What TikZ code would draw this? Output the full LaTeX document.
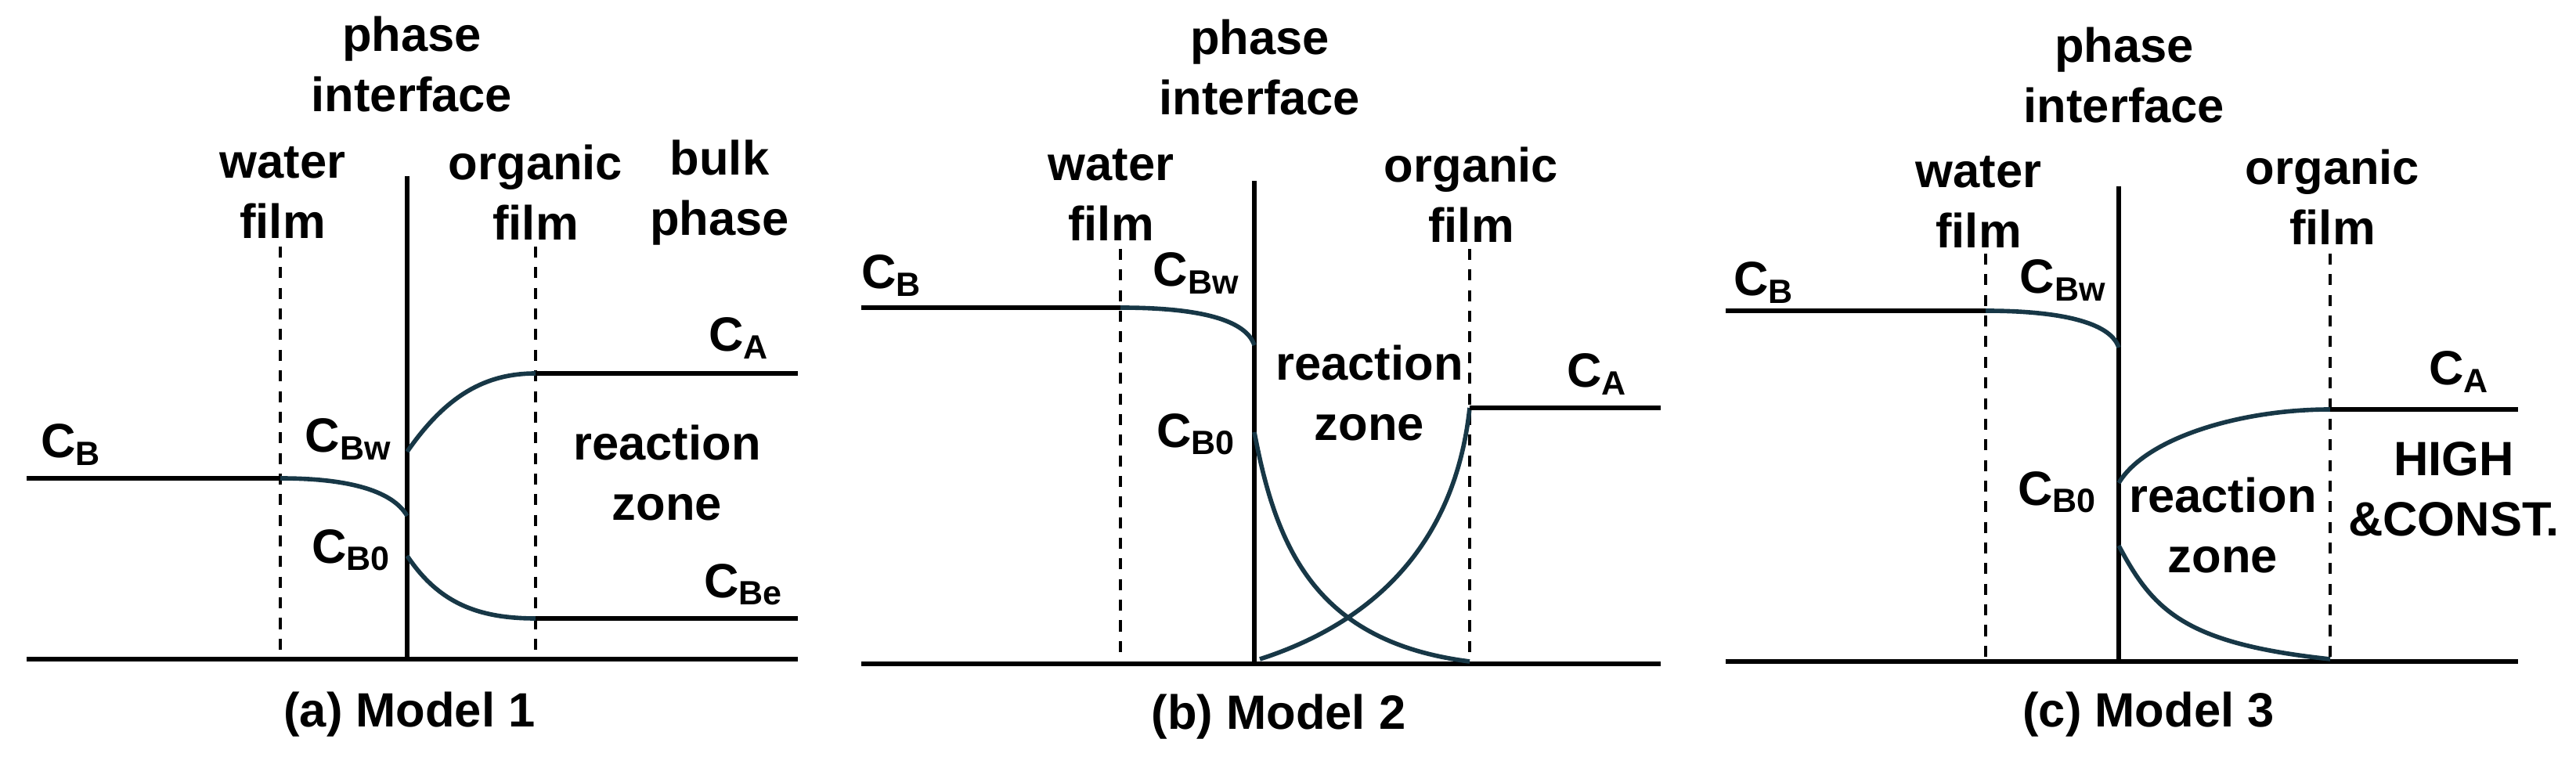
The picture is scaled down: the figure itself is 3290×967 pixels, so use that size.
\documentclass[tikz,border=0pt]{standalone}
\usepackage{fontspec}
\setmainfont{Liberation Sans}
\newcommand{\Cs}[1]{C\textsubscript{#1}}
\definecolor{curvecol}{HTML}{173746}

\begin{document}
\begin{tikzpicture}
    [
        x=0.1mm, y=-0.1mm,
        label/.style = {font=\fontsize{17.5}{22}\selectfont\bfseries, align=center, inner sep=0pt},
        axis/.style = {line width=1.5pt, black},
        film/.style = {line width=1pt, dash pattern=on 4pt off 3.5pt},
        profile/.style = {line width=1.6pt, curvecol},
    ]
    \useasboundingbox (0,0) rectangle (3290,967);

    % (a) Model 1
    \coordinate (aL) at (34,842);   \coordinate (aR) at (1019,842);
    \coordinate (aIt) at (520,225); \coordinate (aIb) at (520,842);
    \coordinate (aWt) at (358,315); \coordinate (aWb) at (358,842);
    \coordinate (aOt) at (684,315); \coordinate (aOb) at (684,842);
    \coordinate (aB0) at (34,611);  \coordinate (aB1) at (358,611); \coordinate (aB2) at (520,659);
    \coordinate (aA0) at (520,577); \coordinate (aA1) at (684,477); \coordinate (aA2) at (1019,477);
    \coordinate (aE0) at (520,710); \coordinate (aE1) at (684,790); \coordinate (aE2) at (1019,790);

    \draw[axis] (aL) -- (aR);
    \draw[axis] (aIt) -- (aIb);
    \draw[film] (aWt) -- (aWb);
    \draw[film] (aOt) -- (aOb);
    \draw[axis] (aB0) -- (aB1);
    \draw[profile] (aB1) .. controls (440,611) and (500,625) .. (aB2);
    \draw[profile] (aA0) .. controls (570,505) and (620,477) .. (aA1);
    \draw[axis] (aA1) -- (aA2);
    \draw[profile] (aE0) .. controls (560,770) and (610,790) .. (aE1);
    \draw[axis] (aE1) -- (aE2);

    \node[label] (aphase) at (526,82) {phase\\interface};
    \node[label] (awater) at (361,246) {water\\film};
    \node[label] (aorg) at (684,246) {organic\\film};
    \node[label] (abulk) at (919,246) {bulk\\phase};
    \node[label] (aCB) at (91,568) {\Cs{B}};
    \node[label] (aCBw) at (445,561) {\Cs{Bw}};
    \node[label] (aCB0) at (449,703) {\Cs{B0}};
    \node[label] (aCA) at (944,432) {\Cs{A}};
    \node[label] (azone) at (852,604) {reaction\\zone};
    \node[label] (aCBe) at (950,747) {\Cs{Be}};
    \node[label] (acap) at (523,913) {(a) Model 1};

    % (b) Model 2
    \coordinate (bL) at (1100,848);  \coordinate (bR) at (2121,848);
    \coordinate (bIt) at (1602,231); \coordinate (bIb) at (1602,848);
    \coordinate (bWt) at (1431,318); \coordinate (bWb) at (1431,848);
    \coordinate (bOt) at (1877,318); \coordinate (bOb) at (1877,848);
    \coordinate (bB0) at (1100,393); \coordinate (bB1) at (1431,393); \coordinate (bB2) at (1602,441);
    \coordinate (bZ0) at (1602,552); \coordinate (bZ1) at (1877,845);
    \coordinate (bA0) at (1609,842); \coordinate (bA1) at (1877,521); \coordinate (bA2) at (2121,521);

    \draw[axis] (bL) -- (bR);
    \draw[axis] (bIt) -- (bIb);
    \draw[film] (bWt) -- (bWb);
    \draw[film] (bOt) -- (bOb);
    \draw[axis] (bB0) -- (bB1);
    \draw[profile] (bB1) .. controls (1520,393) and (1590,405) .. (bB2);
    \draw[profile] (bZ0) .. controls (1630,700) and (1680,820) .. (bZ1);
    \draw[profile] (bA0) .. controls (1770,790) and (1860,680) .. (bA1);
    \draw[axis] (bA1) -- (bA2);

    \node[label] (bphase) at (1609,86) {phase\\interface};
    \node[label] (bwater) at (1419,249) {water\\film};
    \node[label] (borg) at (1879,249) {organic\\film};
    \node[label] (bCB) at (1139,352) {\Cs{B}};
    \node[label] (bCBw) at (1528,349) {\Cs{Bw}};
    \node[label] (bCB0) at (1528,555) {\Cs{B0}};
    \node[label] (bzone) at (1749,502) {reaction\\zone};
    \node[label] (bCA) at (2040,478) {\Cs{A}};
    \node[label] (bcap) at (1633,916) {(b) Model 2};

    % (c) Model 3
    \coordinate (cL) at (2204,845);  \coordinate (cR) at (3216,845);
    \coordinate (cIt) at (2706,238); \coordinate (cIb) at (2706,845);
    \coordinate (cWt) at (2536,324); \coordinate (cWb) at (2536,845);
    \coordinate (cOt) at (2976,324); \coordinate (cOb) at (2976,845);
    \coordinate (cB0) at (2204,397); \coordinate (cB1) at (2536,397); \coordinate (cB2) at (2706,444);
    \coordinate (cA0) at (2706,617); \coordinate (cA1) at (2976,523); \coordinate (cA2) at (3216,523);
    \coordinate (cZ0) at (2706,697); \coordinate (cZ1) at (2976,842);

    \draw[axis] (cL) -- (cR);
    \draw[axis] (cIt) -- (cIb);
    \draw[film] (cWt) -- (cWb);
    \draw[film] (cOt) -- (cOb);
    \draw[axis] (cB0) -- (cB1);
    \draw[profile] (cB1) .. controls (2625,397) and (2695,410) .. (cB2);
    \draw[profile] (cA0) .. controls (2740,560) and (2860,523) .. (cA1);
    \draw[axis] (cA1) -- (cA2);
    \draw[profile] (cZ0) .. controls (2750,780) and (2790,822) .. (cZ1);

    \node[label] (cphase) at (2713,96) {phase\\interface};
    \node[label] (cwater) at (2527,258) {water\\film};
    \node[label] (corg) at (2979,252) {organic\\film};
    \node[label] (cCB) at (2253,361) {\Cs{B}};
    \node[label] (cCBw) at (2635,358) {\Cs{Bw}};
    \node[label] (cCB0) at (2628,629) {\Cs{B0}};
    \node[label] (cCA) at (3141,475) {\Cs{A}};
    \node[label] (chigh) at (3134,625) {HIGH\\\&CONST.};
    \node[label] (czone) at (2839,671) {reaction\\zone};
    \node[label] (ccap) at (2744,913) {(c) Model 3};
\end{tikzpicture}
\end{document}
